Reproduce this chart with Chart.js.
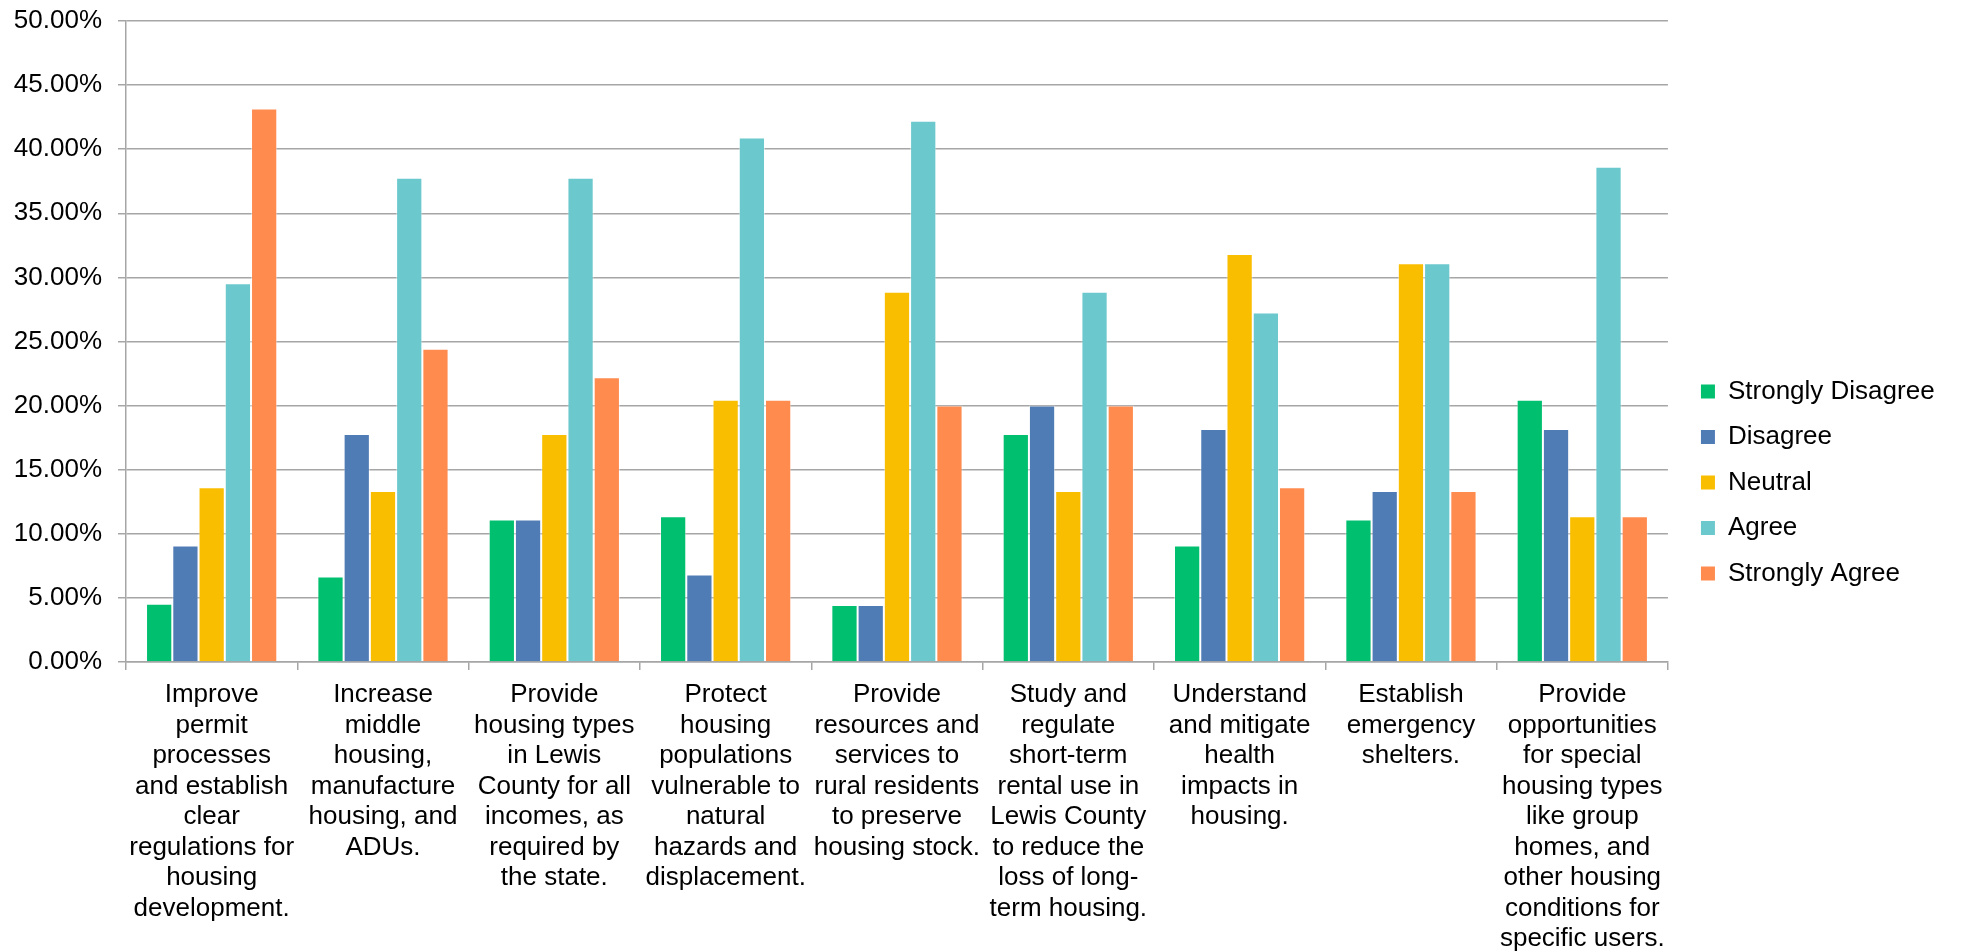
<!DOCTYPE html>
<html>
<head>
<meta charset="utf-8">
<script src="https://cdn.jsdelivr.net/npm/chart.js@4/dist/chart.umd.min.js"></script>
<style>
  body { margin: 0; background: #fff; }
  canvas { display: block; }
</style>
</head>
<body>
<canvas id="survey-chart" width="1963" height="952"></canvas>
<script>
// category labels, already wrapped the way the original shows them
const categories = [
  ['Improve', 'permit', 'processes', 'and establish', 'clear', 'regulations for', 'housing', 'development.'],
  ['Increase', 'middle', 'housing,', 'manufacture', 'housing, and', 'ADUs.'],
  ['Provide', 'housing types', 'in Lewis', 'County for all', 'incomes, as', 'required by', 'the state.'],
  ['Protect', 'housing', 'populations', 'vulnerable to', 'natural', 'hazards and', 'displacement.'],
  ['Provide', 'resources and', 'services to', 'rural residents', 'to preserve', 'housing stock.'],
  ['Study and', 'regulate', 'short-term', 'rental use in', 'Lewis County', 'to reduce the', 'loss of long-', 'term housing.'],
  ['Understand', 'and mitigate', 'health', 'impacts in', 'housing.'],
  ['Establish', 'emergency', 'shelters.'],
  ['Provide', 'opportunities', 'for special', 'housing types', 'like group', 'homes, and', 'other housing', 'conditions for', 'specific users.']
];

const seriesNames = ['Strongly Disagree', 'Disagree', 'Neutral', 'Agree', 'Strongly Agree'];
const seriesColors = ['#00BF6F', '#507CB6', '#F9BE00', '#6BC8CD', '#FF8B4F'];

// percent values
const stronglyDisagree = [4.55, 6.67, 11.11, 11.36, 4.44, 17.78, 9.09, 11.11, 20.45];
const disagree         = [9.09, 17.78, 11.11, 6.82, 4.44, 20.00, 18.18, 13.33, 18.18];
const neutral          = [13.64, 13.33, 17.78, 20.45, 28.89, 13.33, 31.82, 31.11, 11.36];
const agree            = [29.55, 37.78, 37.78, 40.91, 42.22, 28.89, 27.27, 31.11, 38.64];
const stronglyAgree    = [43.18, 24.44, 22.22, 20.45, 20.00, 20.00, 13.64, 13.33, 11.36];

const yTicksMax = 50;
const yTicksStep = 5;

const gridGray = '#a6a6a6';
const fontFamily = '"Liberation Sans", Arial, sans-serif';

// multi-line category labels under the x axis, placed on the category centres
const xLabelPlugin = {
  id: 'xLabels',
  afterDraw(chart) {
    const ctx = chart.ctx;
    const xScale = chart.scales.x;
    const top = chart.chartArea.bottom + 33;
    const lineStep = 30.5;
    ctx.save();
    ctx.font = '26px ' + fontFamily;
    ctx.fillStyle = '#000';
    ctx.textAlign = 'center';
    ctx.textBaseline = 'middle';
    chart.data.labels.forEach((lines, i) => {
      const x = xScale.getPixelForValue(i);
      lines.forEach((line, j) => {
        ctx.fillText(line, x, top + j * lineStep);
      });
    });
    ctx.restore();
  }
};

const allSeries = [stronglyDisagree, disagree, neutral, agree, stronglyAgree];

new Chart(document.getElementById('survey-chart'), {
  type: 'bar',
  data: {
    labels: categories,
    datasets: allSeries.map((values, k) => ({
      label: seriesNames[k],
      data: values,
      backgroundColor: seriesColors[k],
      borderColor: 'rgba(255,255,255,0.45)',
      borderWidth: 1,
      categoryPercentage: 0.766,
      barPercentage: 1.0
    }))
  },
  options: {
    responsive: false,
    animation: false,
    layout: { padding: { top: 21, right: 18.4, bottom: 8, left: 0 } },
    plugins: {
      tooltip: { enabled: false },
      legend: {
        position: 'right',
        align: 'center',
        labels: {
          boxWidth: 14,
          boxHeight: 14,
          padding: 19.5,
          color: '#000',
          font: { size: 26, family: fontFamily },
          generateLabels(chart) {
            // plain squares, no border
            return chart.data.datasets.map((ds, i) => ({
              text: ds.label,
              fillStyle: ds.backgroundColor,
              strokeStyle: ds.backgroundColor,
              lineWidth: 0,
              fontColor: '#000',
              hidden: !chart.isDatasetVisible(i),
              datasetIndex: i
            }));
          }
        }
      }
    },
    scales: {
      x: {
        grid: {
          drawOnChartArea: false,
          drawTicks: true,
          tickLength: 8,
          color: gridGray,
          lineWidth: 1.5
        },
        border: { display: true, color: gridGray, width: 1.5 },
        ticks: { display: false },
        afterFit(scale) { scale.height = 282; }
      },
      y: {
        min: 0,
        max: yTicksMax,
        ticks: {
          stepSize: yTicksStep,
          padding: 16,
          color: '#000',
          font: { size: 26, family: fontFamily },
          callback: v => v.toFixed(2) + '%'
        },
        grid: { color: gridGray, lineWidth: 1.5, tickLength: 8 },
        border: { display: true, color: gridGray, width: 1.5 },
        afterFit(scale) {
          scale.width = 126;
          // only half a label is needed above the top line
          scale.paddingTop = 13;
          scale.paddingBottom = 13;
        }
      },
      y2: {
        position: 'right',
        display: true,
        grid: { display: false },
        ticks: { display: false },
        border: { display: false },
        afterFit(scale) { scale.width = 13.5; }
      }
    }
  },
  plugins: [xLabelPlugin]
});
</script>
</body>
</html>
